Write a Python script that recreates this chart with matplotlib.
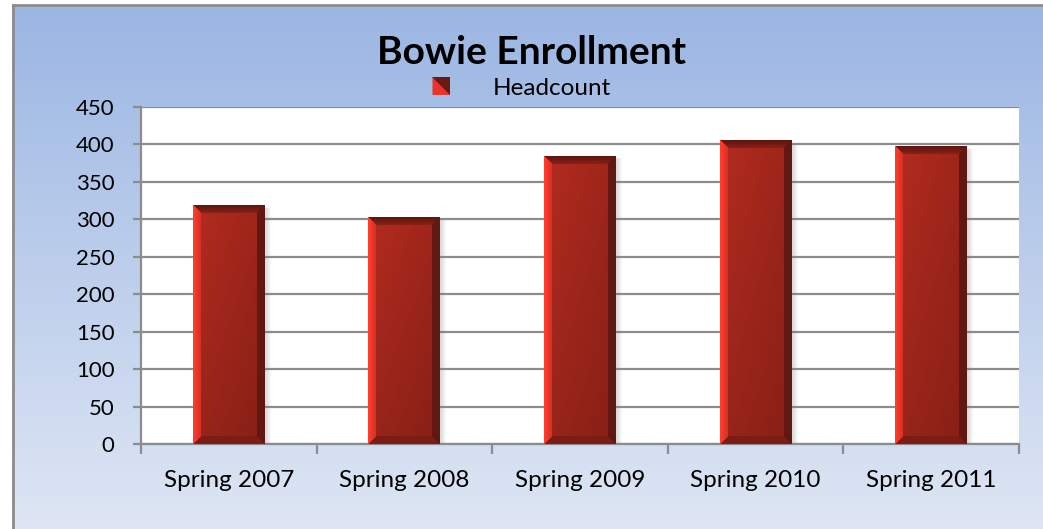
import matplotlib
matplotlib.use('Agg')
import matplotlib.pyplot as plt
import numpy as np
from matplotlib.patches import Rectangle, Polygon
from matplotlib.legend_handler import HandlerBase
from matplotlib.colors import to_rgb

# data
categories = ['Spring 2007', 'Spring 2008', 'Spring 2009', 'Spring 2010', 'Spring 2011']
headcount = [318, 302, 384, 405, 397]
series_name = 'Headcount'
title = 'Bowie Enrollment'
y_ticks = list(range(0, 451, 50))

plt.rcParams['font.family'] = ['Lato', 'DejaVu Sans']

W, H = 1043, 529
fig = plt.figure(figsize=(W / 100, H / 100), dpi=100)
fig.patch.set_facecolor('white')

# gradient background of the chart area
bg = fig.add_axes([12 / W, 0, 1 - 12 / W, 1 - 5 / H])
top_c = np.array(to_rgb('#9bb6e3'))
bot_c = np.array(to_rgb('#dee6f4'))
t = np.linspace(0, 1, 256)[:, None]
grad = top_c[None, :] * (1 - t) + bot_c[None, :] * t
bg.imshow(grad[:, None, :].repeat(2, axis=1), aspect='auto', extent=[0, 1, 0, 1])
bg.set_xlim(0, 1)
bg.set_ylim(0, 1)
bg.axis('off')
# grey border (left and top)
fig.add_artist(plt.Line2D([12.5 / W, 12.5 / W], [0, 1 - 5 / H], color='#8c8c8c', lw=2, transform=fig.transFigure))
fig.add_artist(plt.Line2D([12.5 / W, 1], [1 - 5 / H, 1 - 5 / H], color='#8c8c8c', lw=2, transform=fig.transFigure))

# plot area
L, R, T, B = 141, 1019, 107, 444
ax = fig.add_axes([L / W, (H - B) / H, (R - L) / W, (B - T) / H])
ax.set_facecolor('white')
ax.set_xlim(-0.5, len(categories) - 0.5)
ax.set_ylim(0, 450)
ax.set_yticks(y_ticks)
ax.set_yticklabels([str(v) for v in y_ticks], fontsize=16)
ax.yaxis.grid(True, color='#8c8c8c', lw=1.6)
ax.set_axisbelow(True)
for s in ['top', 'right']:
    ax.spines[s].set_visible(False)
for s in ['left', 'bottom']:
    ax.spines[s].set_color('#8c8c8c')
    ax.spines[s].set_linewidth(1.6)
ax.tick_params(axis='y', length=6, width=1.6, color='#8c8c8c', pad=13)
ax.set_xticks(np.arange(len(categories) + 1) - 0.5)
ax.set_xticklabels([])
ax.set_xticks(np.arange(len(categories)), minor=True)
ax.set_xticklabels(categories, minor=True, fontsize=17.5)
ax.tick_params(axis='x', which='major', length=7, width=1.6, color='#8c8c8c', direction='out')
ax.tick_params(axis='x', which='minor', length=0, pad=19)

bars = ax.bar(np.arange(len(categories)), headcount, width=0.41, color='none', zorder=3)

# pixel scale for the bevel
px_x = (len(categories)) / (R - L)
px_y = 450 / (B - T)


def bar_image(wp, hp, bev=8):
    img = np.zeros((hp, wp, 3))
    xs = np.arange(wp)[None, :]
    ys = np.arange(hp)[:, None]
    u = xs / max(wp - 1, 1)
    v = ys / max(hp - 1, 1)
    face_l = np.array(to_rgb('#b42b20'))
    face_r = np.array(to_rgb('#9e2519'))
    face = face_l * (1 - u[..., None]) + face_r * u[..., None]
    face = face * (1 - 0.15 * v[..., None])
    img[:] = face
    xr = wp - 1 - xs
    yb = hp - 1 - ys
    top = (ys < bev) & (xs >= ys) & (xr >= ys)
    bot = (yb < bev) & (xs >= yb) & (xr >= yb)
    left = (xs < bev) & (ys >= xs) & (yb >= xs)
    right = (xr < bev) & (ys >= xr) & (yb >= xr)
    tmask = np.broadcast_to(top, (hp, wp))
    tg = np.broadcast_to(ys / bev, (hp, wp))[tmask][:, None]
    img[tmask] = np.array(to_rgb('#5e160f')) * (1 - tg) + np.array(to_rgb('#8a2218')) * tg
    img[np.broadcast_to(bot, (hp, wp))] = to_rgb('#7c1c14')
    lmask = np.broadcast_to(left, (hp, wp))
    lg = np.broadcast_to(xs / bev, (hp, wp))[lmask][:, None]
    img[lmask] = np.array(to_rgb('#ff3d2c')) * (1 - lg) + np.array(to_rgb('#d03024')) * lg
    img[np.broadcast_to(right, (hp, wp))] = to_rgb('#621812')
    return np.clip(img, 0, 1)


for b in bars:
    x0, w, h = b.get_x(), b.get_width(), b.get_height()
    wp = int(round(w / px_x))
    hp = int(round(h / px_y))
    # soft shadow on the right
    for k in range(6):
        ax.add_patch(Rectangle((x0 + w, 0), (k + 1) * px_x, h - 2 * px_y, color='#808080',
                               alpha=0.05, lw=0, zorder=2))
    ax.imshow(bar_image(wp, hp), extent=[x0, x0 + w, 0, h], aspect='auto',
              interpolation='nearest', zorder=3)
ax.set_xlim(-0.5, len(categories) - 0.5)
ax.set_ylim(0, 450)


class SplitSquare(HandlerBase):
    def create_artists(self, legend, orig, xd, yd, width, height, fontsize, trans):
        s = height * 1.05
        x0 = xd + (width - s) / 2
        y0 = yd + (height - s) / 2
        lo = Polygon([[x0, y0], [x0 + s, y0], [x0, y0 + s]], closed=True,
                     facecolor='#e9342a', edgecolor='none', transform=trans)
        hi = Polygon([[x0 + s, y0], [x0 + s, y0 + s], [x0, y0 + s]], closed=True,
                     facecolor='#6a1a12', edgecolor='none', transform=trans)
        return [lo, hi]


leg = fig.legend([Rectangle((0, 0), 1, 1)], [series_name], handler_map={Rectangle: SplitSquare()},
                 loc='center', bbox_to_anchor=(520 / W, 1 - 88 / H), frameon=False,
                 fontsize=17.5, handlelength=1.0, handletextpad=1.6)

fig.text(532 / W, 1 - 53 / H, title, ha='center', va='center', fontsize=28, fontweight='bold')

fig.savefig('out.png', dpi=100)
